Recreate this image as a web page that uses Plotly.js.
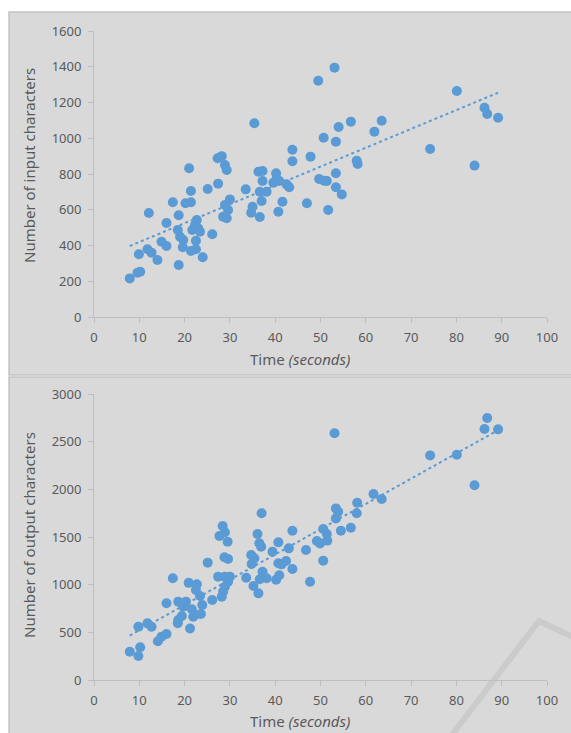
<!DOCTYPE html>
<html>
<head>
<meta charset="utf-8">
<script src="https://cdn.plot.ly/plotly-3.0.1.min.js"></script>
<style>html,body{margin:0;padding:0;background:#fff;}#chart{width:571px;height:733px;}</style>
</head>
<body>
<div id="chart"></div>
<script>
// ---- Data ----
const timeInput = [7.9,9.6,10.2,9.9,11.8,12.7,12.1,14.0,14.9,16.0,16.0,17.4,18.7,18.5,19.0,19.7,19.6,18.7,20.2,21.4,21.0,21.4,21.4,22.5,22.5,22.7,22.3,23.0,21.7,23.4,24.0,25.1,26.1,27.4,27.3,28.2,28.9,29.3,30.0,28.9,29.6,28.5,29.3,33.5,35.0,34.7,35.4,36.3,37.2,37.2,36.6,38.1,37.0,36.6,40.2,39.6,40.9,40.3,42.5,43.1,41.6,40.7,43.8,43.8,47.0,47.8,49.5,53.1,50.7,53.4,54.0,56.7,49.7,50.8,51.4,53.4,53.4,54.7,51.7,58.0,58.2,61.9,63.5,74.2,80.1,84.0,86.2,86.8,89.2];
const inputChars = [216,248,253,351,379,360,582,319,421,397,526,642,569,487,449,431,390,291,636,642,832,705,369,379,427,543,515,496,487,477,334,716,463,746,888,900,850,822,658,627,599,561,552,714,617,583,1084,813,817,761,701,701,649,559,804,751,761,772,742,726,645,589,936,871,636,897,1322,1395,1003,981,1063,1093,772,762,761,804,726,686,599,874,856,1037,1098,940,1264,847,1171,1136,1115];

const timeOutput = [7.9,9.8,10.2,9.8,11.8,12.7,14.1,14.9,16.0,16.0,17.4,18.6,20.3,19.7,21.6,23.9,19.4,22.3,23.6,18.5,18.6,21.2,21.9,20.9,22.7,22.5,23.4,26.1,25.1,28.4,28.9,27.7,29.5,28.8,29.6,27.4,28.9,30.0,29.6,28.9,28.5,28.2,33.6,34.7,35.4,34.8,35.2,36.3,37.0,36.1,36.5,36.9,37.2,38.1,36.6,39.4,40.7,43.0,43.8,42.4,41.4,40.7,43.8,40.9,40.2,46.8,47.7,50.6,51.4,51.5,49.2,49.9,50.6,53.1,53.4,53.9,53.4,54.5,56.7,58.1,58.0,61.7,63.5,74.2,80.1,84.0,86.2,86.8,89.2];
const outputChars = [297,252,343,559,594,559,406,454,482,805,1067,822,822,770,742,787,671,682,692,595,629,541,664,1019,1005,944,881,839,1231,1615,1549,1510,1451,1287,1270,1084,1084,1084,1031,979,926,874,1073,1311,1276,1217,986,909,1749,1532,1434,1398,1136,1067,1056,1346,1444,1381,1566,1248,1213,1224,1164,1098,1052,1364,1031,1584,1532,1462,1458,1433,1252,2588,1800,1765,1695,1566,1597,1859,1749,1951,1898,2356,2363,2043,2633,2748,2629];

const xTicks = [0,10,20,30,40,50,60,70,80,90,100];
const yTicksInput = [0,200,400,600,800,1000,1200,1400,1600];
const yTicksOutput = [0,500,1000,1500,2000,2500,3000];

const xTitle = 'Time <i>(seconds)</i>';
const yTitleInput = 'Number of input characters';
const yTitleOutput = 'Number of output characters';

// ---- Linear trend (least squares, as a spreadsheet trendline) ----
function trend(xs, ys) {
  const n = xs.length;
  let sx = 0, sy = 0, sxx = 0, sxy = 0;
  for (let i = 0; i < n; i++) { sx += xs[i]; sy += ys[i]; sxx += xs[i]*xs[i]; sxy += xs[i]*ys[i]; }
  const m = (n*sxy - sx*sy) / (n*sxx - sx*sx);
  const b = (sy - m*sx) / n;
  const x0 = Math.min(...xs), x1 = Math.max(...xs);
  return {x: [x0, x1], y: [m*x0 + b, m*x1 + b]};
}

const W = 571, H = 733;
const px = v => v / W;
const py = v => 1 - v / H;

const blue = '#5b9bd5';
const txt = '#595959';
const axisCol = '#bfbfbf';
const font = 'Noto Sans, DejaVu Sans, sans-serif';

const tTop = trend(timeInput, inputChars);
const tBot = trend(timeOutput, outputChars);

const traces = [
  {x: timeInput, y: inputChars, type: 'scatter', mode: 'markers', xaxis: 'x', yaxis: 'y',
   marker: {color: blue, size: 10, line: {width: 0}}, hoverinfo: 'x+y'},
  {x: tTop.x, y: tTop.y, type: 'scatter', mode: 'lines', xaxis: 'x', yaxis: 'y',
   line: {color: blue, width: 2, dash: 'dot'}, hoverinfo: 'skip'},
  {x: timeOutput, y: outputChars, type: 'scatter', mode: 'markers', xaxis: 'x2', yaxis: 'y2',
   marker: {color: blue, size: 10, line: {width: 0}}, hoverinfo: 'x+y'},
  {x: tBot.x, y: tBot.y, type: 'scatter', mode: 'lines', xaxis: 'x2', yaxis: 'y2',
   line: {color: blue, width: 2, dash: 'dot'}, hoverinfo: 'skip'}
];

const xAxisCommon = {
  range: [0, 100], tickvals: xTicks, ticktext: xTicks.map(String),
  showgrid: false, zeroline: false, showline: true, linecolor: axisCol, linewidth: 1,
  ticks: 'outside', ticklen: 5, tickcolor: axisCol, tickwidth: 1,
  tickfont: {family: font, size: 13, color: txt}, ticklabelstandoff: 3,
  fixedrange: true, automargin: false, domain: [px(94), px(547)]
};
const yAxisCommon = {
  showgrid: false, zeroline: false, showline: true, linecolor: axisCol, linewidth: 1,
  ticks: 'outside', ticklen: 5, tickcolor: axisCol, tickwidth: 1,
  tickfont: {family: font, size: 13, color: txt}, ticklabelstandoff: 4,
  fixedrange: true, automargin: false
};

const layout = {
  width: W, height: H,
  margin: {l: 0, r: 0, t: 0, b: 0},
  paper_bgcolor: '#ffffff',
  plot_bgcolor: 'rgba(0,0,0,0)',
  showlegend: false,
  xaxis: Object.assign({}, xAxisCommon, {anchor: 'y'}),
  yaxis: Object.assign({}, yAxisCommon, {anchor: 'x', range: [0, 1600], tickvals: yTicksInput,
    ticktext: yTicksInput.map(String), domain: [py(317), py(31)]}),
  xaxis2: Object.assign({}, xAxisCommon, {anchor: 'y2'}),
  yaxis2: Object.assign({}, yAxisCommon, {anchor: 'x2', range: [0, 3000], tickvals: yTicksOutput,
    ticktext: yTicksOutput.map(String), domain: [py(680), py(394)]}),
  shapes: [
    {type: 'rect', xref: 'paper', yref: 'paper', x0: px(9), x1: px(580), y0: py(375), y1: py(12),
     fillcolor: '#d9d9d9', line: {color: '#c3c3c3', width: 1.5}, layer: 'below'},
    {type: 'rect', xref: 'paper', yref: 'paper', x0: px(9), x1: px(580), y0: py(745), y1: py(377),
     fillcolor: '#d9d9d9', line: {color: '#c3c3c3', width: 1.5}, layer: 'below'},
    {type: 'path', xref: 'paper', yref: 'paper',
     path: 'M ' + px(448) + ' ' + py(740) + ' L ' + px(539) + ' ' + py(621) + ' L ' + px(575) + ' ' + py(638),
     line: {color: '#cbcbcb', width: 6}, layer: 'below'}
  ],
  annotations: [
    {text: xTitle, xref: 'paper', yref: 'paper', x: px(300), y: py(359), showarrow: false,
     xanchor: 'center', yanchor: 'middle', font: {family: font, size: 15, color: txt}},
    {text: xTitle, xref: 'paper', yref: 'paper', x: px(300), y: py(721), showarrow: false,
     xanchor: 'center', yanchor: 'middle', font: {family: font, size: 15, color: txt}},
    {text: yTitleInput, xref: 'paper', yref: 'paper', x: px(29), y: py(166), showarrow: false,
     textangle: -90, xanchor: 'center', yanchor: 'middle', font: {family: font, size: 15, color: txt}},
    {text: yTitleOutput, xref: 'paper', yref: 'paper', x: px(29), y: py(535), showarrow: false,
     textangle: -90, xanchor: 'center', yanchor: 'middle', font: {family: font, size: 15, color: txt}}
  ]
};

Plotly.newPlot('chart', traces, layout, {displayModeBar: false, staticPlot: true});
</script>
</body>
</html>
